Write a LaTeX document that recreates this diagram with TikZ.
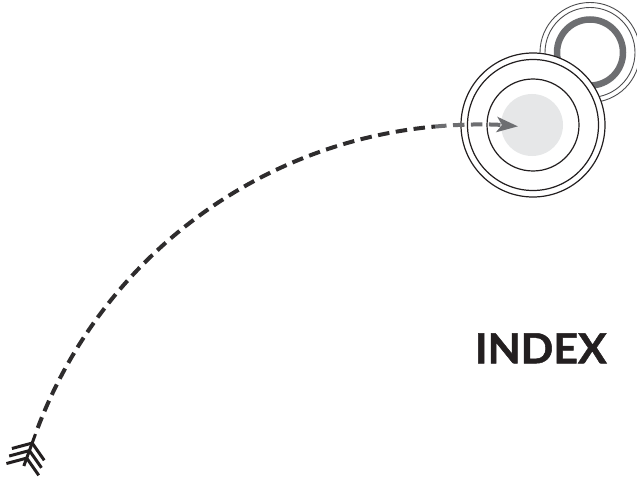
\documentclass[tikz,border=0pt]{standalone}
\usepackage{fontspec}
\setmainfont{Lato}
\newfontfamily\indexfont{Lato}[BoldFeatures={FakeBold=1.2}]
\usetikzlibrary{calc,arrows.meta}
\definecolor{ink}{HTML}{231F20}
\definecolor{dashink}{HTML}{2E2C2D}
\definecolor{ringgray}{HTML}{6D6E71}
\definecolor{thingray}{HTML}{4D4D4F}
\definecolor{fillgray}{HTML}{E6E7E8}
\tikzset{
  ringline/.style={draw=ink, line width=1.2pt},
  thinring/.style={draw=thingray, line width=0.9pt},
  flightpath/.style={dashink, line width=4pt, dash pattern=on 11.5pt off 6.5pt},
  fletch/.style={ink, line width=3pt},
}
\begin{document}
\begin{tikzpicture}[x=1pt,y=-1pt]
\useasboundingbox (0,0) rectangle (637,484);
% small target (behind)
\coordinate (small) at (590,52.5);
\draw[thinring] (small) circle[radius=50];
\draw[thinring] (small) circle[radius=45];
\draw[ringgray, line width=6.5pt] (small) circle[radius=33];
% big target
\node[circle, fill=white, ringline, minimum size=144pt, inner sep=0pt] (target) at (533,125) {};
\draw[ringline] (target.center) circle[radius=65.5];
\draw[ringline] (target.center) circle[radius=46];
\fill[fillgray] ($(target.center)+(-1,0)$) circle[radius=31];
% flight path (circular arc)
\coordinate (O) at (477.4,594.9);
\coordinate (S) at ($(O)+(200:470.3)$);
\coordinate (G) at ($(O)+(264.83:470.3)$);
\draw[flightpath, dash phase=11.5pt] (S) arc[start angle=200, end angle=264.83, radius=470.3];
\draw[flightpath, ringgray, -{Stealth[length=21pt, width=15pt, inset=5pt]}] (G) arc[start angle=264.83, end angle=274.95, radius=470.3];
% fletching
\coordinate (T) at ($(S)+(110:34)$);
\draw[fletch] (S) -- (T);
\foreach \d/\n in {9.6/a, 17.6/b, 25.6/c}{
  \coordinate (\n) at ($(S)+(110:\d)$);
  \draw[fletch] ($(\n)+(165:21)$) -- (\n) -- ($(\n)+(55:21)$);
}
% label
\node[inner sep=0pt, text=ink] (index) at (540.8,348.3) {\resizebox{131.7pt}{30pt}{\indexfont\bfseries INDEX}};
\end{tikzpicture}
\end{document}
